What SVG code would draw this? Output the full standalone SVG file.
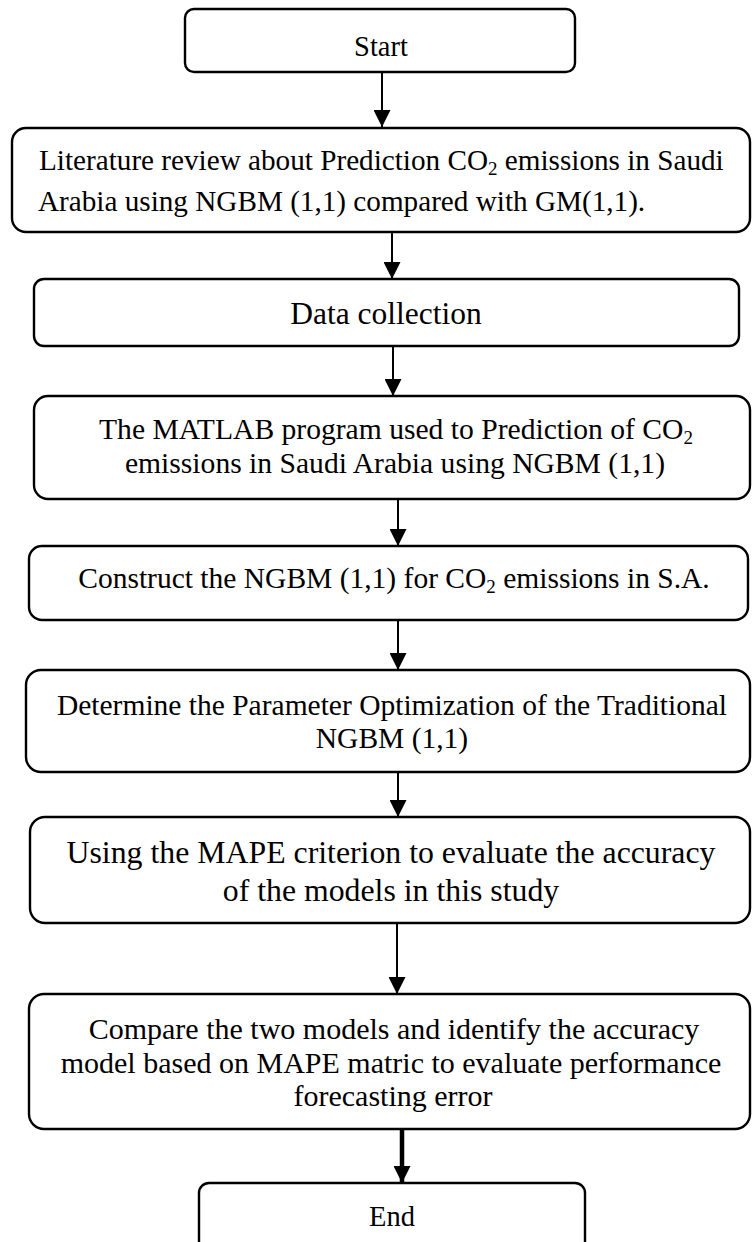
<svg xmlns="http://www.w3.org/2000/svg" width="752" height="1242" viewBox="0 0 752 1242">
<style>
.box{fill:#fff;stroke:#000;stroke-width:2.4}
.t{font-family:"Liberation Serif","Times New Roman",serif;fill:#000;text-anchor:middle}
.l{text-anchor:start}
.c{stroke:#000;stroke-width:2;fill:none;marker-end:url(#ah)}
.thick{stroke-width:4.5}
</style>
<defs>
<marker id="ah" markerUnits="userSpaceOnUse" markerWidth="17" markerHeight="17" refX="17" refY="8.5" orient="auto">
<path d="M0,0 L17,8.5 L0,17 z" fill="#000"/>
</marker>
</defs>
<rect width="752" height="1242" fill="#fff"/>
<g id="connectors">
<line class="c" x1="382" y1="72" x2="382" y2="127"/>
<line class="c" x1="392" y1="232" x2="392" y2="279"/>
<line class="c" x1="393" y1="346" x2="393" y2="396"/>
<line class="c" x1="398" y1="499" x2="398" y2="546"/>
<line class="c" x1="398" y1="620" x2="398" y2="670"/>
<line class="c" x1="398" y1="772" x2="398" y2="817"/>
<line class="c" x1="397" y1="923" x2="397" y2="994"/>
<line class="c thick" x1="402" y1="1129" x2="402" y2="1183"/>
</g>
<g id="start">
<rect class="box" x="185" y="9" width="390" height="63" rx="9"/>
<text class="t" x="381" y="56" font-size="28.5">Start</text>
</g>
<g id="literature">
<rect class="box" x="12" y="128" width="738" height="104" rx="14"/>
<text class="t l" x="39" y="170" font-size="29.2">Literature review about Prediction CO<tspan font-size="19" dy="5">2</tspan><tspan dy="-5"> emissions in Saudi</tspan></text>
<text class="t l" x="38" y="211" font-size="29.2">Arabia using NGBM (1,1) compared with GM(1,1).</text>
</g>
<g id="data">
<rect class="box" x="34" y="279" width="705" height="67" rx="10"/>
<text class="t" x="386" y="324" font-size="31.5">Data collection</text>
</g>
<g id="matlab">
<rect class="box" x="34" y="396" width="716" height="103" rx="14"/>
<text class="t" x="396" y="439" font-size="29.6">The MATLAB program used to Prediction of CO<tspan font-size="19" dy="5">2</tspan></text>
<text class="t" x="395" y="473" font-size="29.6">emissions in Saudi Arabia using NGBM (1,1)</text>
</g>
<g id="construct">
<rect class="box" x="29" y="546" width="719" height="74" rx="13"/>
<text class="t" x="394" y="588" font-size="29.5">Construct the NGBM (1,1) for CO<tspan font-size="19" dy="5">2</tspan><tspan dy="-5"> emissions in S.A.</tspan></text>
</g>
<g id="determine">
<rect class="box" x="26" y="670" width="724" height="102" rx="15"/>
<text class="t" x="392" y="715" font-size="29.5">Determine the Parameter Optimization of the Traditional</text>
<text class="t" x="392" y="748" font-size="29.5">NGBM (1,1)</text>
</g>
<g id="mape">
<rect class="box" x="30" y="817" width="720" height="106" rx="15"/>
<text class="t" x="391" y="863" font-size="31.8">Using the MAPE criterion to evaluate the accuracy</text>
<text class="t" x="391" y="901" font-size="31.8">of the models in this study</text>
</g>
<g id="compare">
<rect class="box" x="29" y="994" width="721" height="135" rx="15"/>
<text class="t" x="394" y="1039" font-size="30">Compare the two models and identify the accuracy</text>
<text class="t" x="391" y="1073" font-size="30">model based on MAPE matric to evaluate performance</text>
<text class="t" x="393" y="1106" font-size="30">forecasting error</text>
</g>
<g id="end">
<rect class="box" x="199" y="1183" width="386" height="70" rx="10"/>
<text class="t" x="392" y="1226" font-size="28.5">End</text>
</g>
</svg>
